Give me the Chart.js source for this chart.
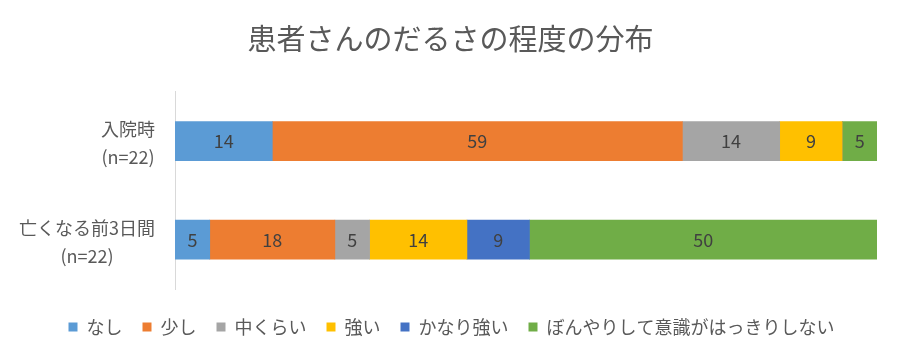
<!DOCTYPE html>
<html>
<head>
<meta charset="utf-8">
<script src="https://cdn.jsdelivr.net/npm/chart.js@4/dist/chart.umd.min.js"></script>
<style>
html,body{margin:0;padding:0;background:#fff;}
#wrap{width:900px;height:360px;position:relative;}
</style>
</head>
<body>
<div id="wrap"><canvas id="c" width="900" height="360"></canvas></div>
<script>
const titleText = '患者さんのだるさの程度の分布';
const categories = [['入院時', '(n=22)'], ['亡くなる前3日間', '(n=22)']];
const seriesNames = ['なし', '少し', '中くらい', '強い', 'かなり強い', 'ぼんやりして意識がはっきりしない'];
const seriesColors = ['#5B9BD5', '#ED7D31', '#A5A5A5', '#FFC000', '#4472C4', '#70AD47'];
const nashi = [14, 5];
const sukoshi = [59, 18];
const chukurai = [14, 5];
const tsuyoi = [9, 14];
const kanariTsuyoi = [0, 9];
const bonyari = [5, 50];
const seriesValues = [nashi, sukoshi, chukurai, tsuyoi, kanariTsuyoi, bonyari];
const axisMax = 101;

const FONT = '"Noto Sans CJK JP", "Noto Sans", sans-serif';

const valueLabels = {
  id: 'valueLabels',
  afterDatasetsDraw(chart) {
    const ctx = chart.ctx;
    ctx.save();
    ctx.font = '18px ' + FONT;
    ctx.fillStyle = '#404040';
    ctx.textAlign = 'center';
    ctx.textBaseline = 'middle';
    chart.data.datasets.forEach((ds, i) => {
      const meta = chart.getDatasetMeta(i);
      meta.data.forEach((el, j) => {
        const v = ds.data[j];
        if (!v) return;
        const p = el.getProps(['x', 'base', 'y'], true);
        ctx.fillText(String(v), (p.x + p.base) / 2, p.y);
      });
    });
    ctx.restore();
  }
};

const catLabels = {
  id: 'catLabels',
  afterLayout(chart) {
    if (chart.legend) {
      chart.legend.left += 13;
      chart.legend.right += 13;
    }
    if (chart.titleBlock) {
      chart.titleBlock.left += 12;
      chart.titleBlock.right += 12;
    }
  },
  afterDraw(chart) {
    const ctx = chart.ctx;
    const ys = chart.scales.y;
    ctx.save();
    ctx.font = '18px ' + FONT;
    ctx.fillStyle = '#595959';
    ctx.textAlign = 'center';
    ctx.textBaseline = 'middle';
    categories.forEach((lines, i) => {
      const cy = ys.getPixelForValue(i);
      const w = Math.max(...lines.map(l => ctx.measureText(l).width));
      const cx = 155 - w / 2;
      ctx.fillText(lines[0], cx, cy - 12);
      ctx.fillText(lines[1], cx, cy + 16);
    });
    ctx.restore();
  }
};

new Chart(document.getElementById('c'), {
  type: 'bar',
  data: {
    labels: categories.map(c => c.join(' ')),
    datasets: seriesNames.map((n, i) => ({
      label: n,
      data: seriesValues[i],
      backgroundColor: seriesColors[i],
      borderWidth: 0,
      barThickness: 39
    }))
  },
  options: {
    indexAxis: 'y',
    responsive: false,
    animation: false,
    layout: { padding: { left: 0, right: 23, top: 0, bottom: 14 } },
    scales: {
      x: {
        stacked: true, min: 0, max: axisMax,
        display: true,
        ticks: { display: false },
        grid: { display: false },
        border: { display: false },
        afterFit(s) { s.height = 9; }
      },
      y: {
        stacked: true,
        ticks: { display: false },
        grid: { display: false, drawTicks: false },
        border: { display: true, color: '#D9D9D9', width: 1 },
        afterFit(s) { s.width = 175; }
      }
    },
    plugins: {
      title: {
        display: true,
        text: titleText,
        color: '#595959',
        font: { family: FONT, size: 29, weight: 'normal' },
        padding: { top: 22, bottom: 35 }
      },
      legend: {
        position: 'bottom',
        labels: {
          boxWidth: 9, boxHeight: 9,
          color: '#595959',
          font: { family: FONT, size: 18 },
          padding: 20
        }
      },
      tooltip: { enabled: false }
    }
  },
  plugins: [valueLabels, catLabels]
});
</script>
</body>
</html>
